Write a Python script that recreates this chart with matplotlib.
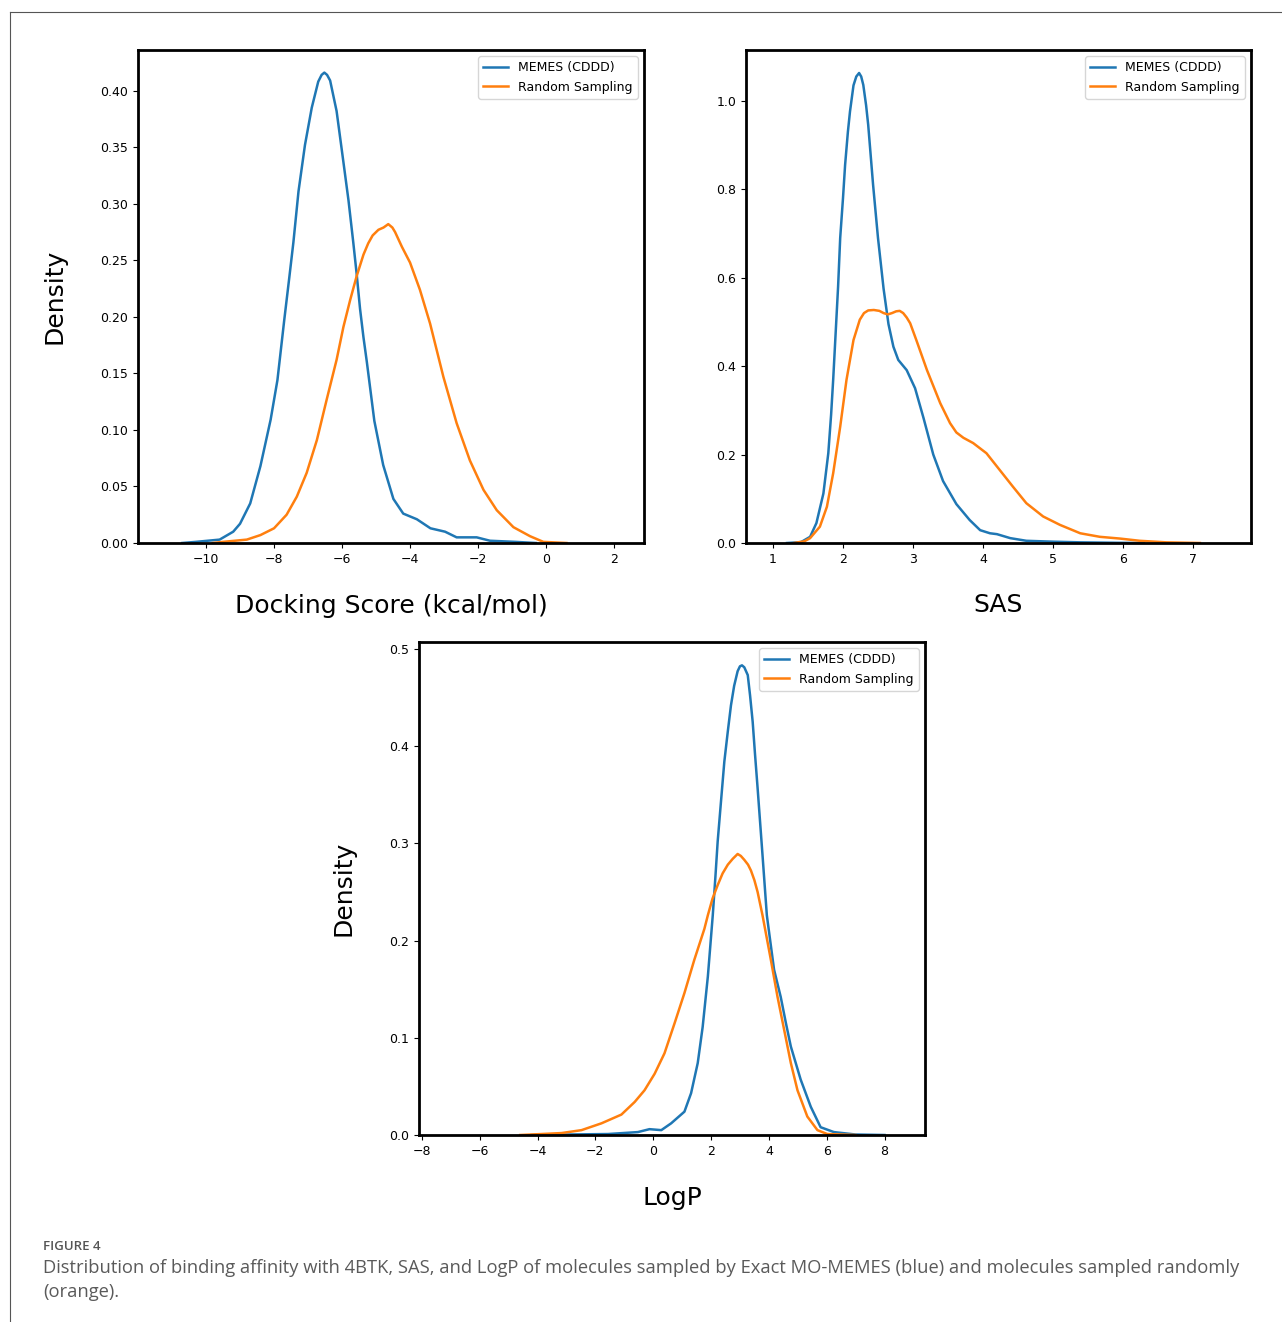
import matplotlib
matplotlib.use("Agg")
import matplotlib.pyplot as plt
from matplotlib.lines import Line2D

# curves (x, density)
dock_memes_x = [-10.7, -10.3, -9.6, -9.2, -9.0, -8.7, -8.4, -8.1, -7.9, -7.7, -7.55, -7.43, -7.28,
                -7.09, -6.89, -6.70, -6.60, -6.52, -6.44, -6.35, -6.16, -5.96, -5.81, -5.67, -5.57,
                -5.47, -5.37, -5.27, -5.05, -4.79, -4.49, -4.2, -3.8, -3.4, -2.97, -2.63, -2.04,
                -1.65, -0.9, -0.3]
dock_memes_y = [0.0, 0.001, 0.003, 0.010, 0.017, 0.035, 0.068, 0.109, 0.144, 0.197, 0.235, 0.266, 0.311,
                0.352, 0.385, 0.408, 0.414, 0.416, 0.414, 0.409, 0.382, 0.337, 0.303, 0.266, 0.238,
                0.207, 0.182, 0.160, 0.108, 0.069, 0.039, 0.026, 0.021, 0.013, 0.010, 0.005, 0.005,
                0.002, 0.001, 0.0]
dock_rand_x = [-9.8, -9.5, -8.8, -8.4, -8.0, -7.63, -7.33, -7.04, -6.74, -6.45, -6.16, -5.96, -5.76,
               -5.57, -5.37, -5.23, -5.1, -4.93, -4.78, -4.64, -4.52, -4.44, -4.24, -4.0, -3.71,
               -3.41, -3.02, -2.63, -2.24, -1.84, -1.45, -0.96, -0.47, -0.08, 0.6]
dock_rand_y = [0.0, 0.001, 0.003, 0.007, 0.013, 0.025, 0.041, 0.062, 0.091, 0.127, 0.162, 0.191, 0.215,
               0.236, 0.255, 0.265, 0.272, 0.277, 0.279, 0.282, 0.279, 0.275, 0.262, 0.248, 0.224,
               0.194, 0.147, 0.106, 0.073, 0.047, 0.029, 0.014, 0.006, 0.001, 0.0]

sas_memes_x = [1.2, 1.4, 1.53, 1.62, 1.72, 1.79, 1.83, 1.86, 1.89, 1.93, 1.96, 2.0, 2.03, 2.07, 2.10,
               2.15, 2.19, 2.23, 2.26, 2.29, 2.33, 2.36, 2.43, 2.50, 2.58, 2.65, 2.72, 2.79, 2.91,
               3.03, 3.15, 3.29, 3.43, 3.62, 3.81, 3.96, 4.1, 4.2, 4.39, 4.62, 5.0, 5.39, 5.9, 6.3]
sas_memes_y = [0.0, 0.002, 0.014, 0.045, 0.112, 0.203, 0.290, 0.370, 0.460, 0.580, 0.690, 0.780, 0.855,
               0.930, 0.976, 1.035, 1.055, 1.063, 1.055, 1.036, 0.990, 0.946, 0.810, 0.690, 0.575,
               0.495, 0.444, 0.414, 0.391, 0.350, 0.283, 0.200, 0.140, 0.088, 0.052, 0.029, 0.022,
               0.020, 0.011, 0.005, 0.003, 0.0015, 0.0005, 0.0]
sas_rand_x = [1.3, 1.45, 1.53, 1.67, 1.77, 1.86, 1.96, 2.05, 2.15, 2.24, 2.30, 2.36, 2.44, 2.52, 2.58,
              2.64, 2.70, 2.76, 2.81, 2.86, 2.91, 2.96, 3.05, 3.20, 3.39, 3.53, 3.62, 3.72, 3.86,
              4.05, 4.24, 4.43, 4.62, 4.86, 5.10, 5.39, 5.67, 5.96, 6.24, 6.62, 7.1]
sas_rand_y = [0.0, 0.004, 0.011, 0.037, 0.082, 0.158, 0.263, 0.369, 0.459, 0.505, 0.520, 0.526, 0.527,
              0.525, 0.520, 0.517, 0.520, 0.524, 0.525, 0.520, 0.510, 0.497, 0.458, 0.391, 0.316,
              0.271, 0.250, 0.238, 0.226, 0.203, 0.165, 0.127, 0.090, 0.060, 0.041, 0.022, 0.014,
              0.010, 0.005, 0.0015, 0.0]

logp_memes_x = [-4.2, -3.0, -1.56, -0.53, -0.13, 0.28, 0.62, 1.08, 1.31, 1.54, 1.71, 1.89, 2.06, 2.15,
                2.23, 2.35, 2.46, 2.58, 2.69, 2.80, 2.92, 3.00, 3.07, 3.15, 3.27, 3.35, 3.44, 3.52,
                3.61, 3.78, 3.93, 4.01, 4.18, 4.41, 4.59, 4.76, 5.10, 5.45, 5.79, 6.25, 7.0, 8.0]
logp_memes_y = [0.0, 0.0005, 0.001, 0.003, 0.006, 0.005, 0.012, 0.024, 0.043, 0.074, 0.111, 0.163, 0.226,
                0.265, 0.302, 0.345, 0.384, 0.415, 0.442, 0.462, 0.477, 0.482, 0.483, 0.481, 0.473,
                0.452, 0.425, 0.392, 0.357, 0.288, 0.226, 0.208, 0.170, 0.142, 0.115, 0.091, 0.057,
                0.029, 0.008, 0.003, 0.0005, 0.0]
logp_rand_x = [-4.6, -3.86, -3.17, -2.48, -1.79, -1.10, -0.64, -0.30, 0.05, 0.39, 0.74, 1.08, 1.42,
               1.77, 1.89, 2.05, 2.23, 2.40, 2.58, 2.75, 2.92, 3.03, 3.15, 3.28, 3.38, 3.50, 3.61,
               3.78, 4.07, 4.30, 4.53, 4.76, 4.99, 5.33, 5.68, 6.02, 7.0]
logp_rand_y = [0.0, 0.001, 0.002, 0.005, 0.012, 0.021, 0.034, 0.046, 0.063, 0.084, 0.115, 0.146, 0.180,
               0.212, 0.226, 0.243, 0.257, 0.269, 0.278, 0.284, 0.289, 0.287, 0.283, 0.278, 0.272,
               0.262, 0.250, 0.226, 0.180, 0.142, 0.108, 0.074, 0.046, 0.019, 0.005, 0.001, 0.0]

series_names = ["MEMES (CDDD)", "Random Sampling"]
caption_head = "FIGURE 4"
caption_body = ("Distribution of binding affinity with 4BTK, SAS, and LogP of molecules sampled by "
                "Exact MO-MEMES (blue) and molecules sampled randomly\n(orange).")

fig = plt.figure(figsize=(12.82, 13.22), dpi=100)

# page border (left and top rules)
fig.add_artist(Line2D([10 / 1282, 10 / 1282], [0, 1 - 12 / 1322], color="#555555", lw=0.8))
fig.add_artist(Line2D([10 / 1282, 1], [1 - 12 / 1322, 1 - 12 / 1322], color="#555555", lw=0.8))


def panel(rect, xs, ys, xlim, ylim, xticks, yticks, yfmt, xlabel, ylabel):
    ax = fig.add_axes(rect)
    for x, y, name in zip(xs, ys, series_names):
        ax.plot(x, y, lw=1.8, label=name, solid_joinstyle="round")
    ax.set_xlim(xlim)
    ax.set_ylim(ylim)
    ax.set_xticks(xticks)
    ax.set_yticks(yticks)
    ax.set_yticklabels([yfmt.format(v) for v in yticks])
    ax.tick_params(labelsize=9)
    for s in ax.spines.values():
        s.set_linewidth(2.0)
    ax.set_xlabel(xlabel, fontsize=18, labelpad=20)
    if ylabel:
        ax.set_ylabel(ylabel, fontsize=18, labelpad=24)
    ax.legend(loc="upper right", fontsize=9)
    return ax


panel([138 / 1282, 1 - 543 / 1322, 506 / 1282, 493 / 1322],
      [dock_memes_x, dock_rand_x], [dock_memes_y, dock_rand_y],
      (-12.0, 2.88), (0, 0.436), [-10, -8, -6, -4, -2, 0, 2],
      [0, 0.05, 0.10, 0.15, 0.20, 0.25, 0.30, 0.35, 0.40], "{:.2f}",
      "Docking Score (kcal/mol)", "Density")

panel([746 / 1282, 1 - 543 / 1322, 505 / 1282, 493 / 1322],
      [sas_memes_x, sas_rand_x], [sas_memes_y, sas_rand_y],
      (0.614, 7.83), (0, 1.115), [1, 2, 3, 4, 5, 6, 7],
      [0, 0.2, 0.4, 0.6, 0.8, 1.0], "{:.1f}",
      "SAS", None)

panel([419 / 1282, 1 - 1135 / 1322, 506 / 1282, 493 / 1322],
      [logp_memes_x, logp_rand_x], [logp_memes_y, logp_rand_y],
      (-8.1, 9.4), (0, 0.507), [-8, -6, -4, -2, 0, 2, 4, 6, 8],
      [0, 0.1, 0.2, 0.3, 0.4, 0.5], "{:.1f}",
      "LogP", "Density")

fig.text(43 / 1282, 1 - 1246 / 1322, caption_head, fontsize=9.5, fontweight="semibold",
         color="#555555", family=["Open Sans", "DejaVu Sans"], va="center")
fig.text(43 / 1282, 1 - 1259 / 1322, caption_body, fontsize=13.2, color="#5a5a5a",
         family=["Open Sans", "DejaVu Sans"], va="top", linespacing=1.4)

fig.savefig("out.png", dpi=100)
